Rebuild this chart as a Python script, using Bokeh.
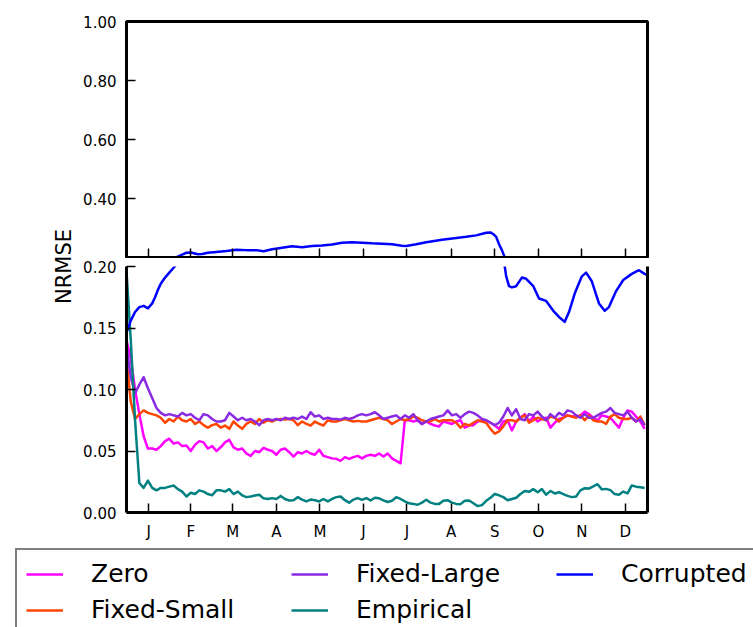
from math import pi

from bokeh.embed import file_html
from bokeh.layouts import column, row
from bokeh.models import (FixedTicker, Label, Legend, LegendItem, LinearAxis,
                          NumeralTickFormatter, Range1d)
from bokeh.plotting import figure
from bokeh.resources import INLINE

FONT = "DejaVu Sans"

# ---- data -------------------------------------------------------------
month_labels = ["J", "F", "M", "A", "M", "J", "J", "A", "S", "O", "N", "D"]
month_lengths = [31, 28, 31, 30, 31, 30, 31, 31, 30, 31, 30, 31]

# day of year, sampled every third day
days = list(range(0, 364, 3))

zero = [
    0.140, 0.125, 0.100, 0.080, 0.062, 0.052, 0.052, 0.051, 0.054, 0.058,
    0.060, 0.056, 0.057, 0.054, 0.0545, 0.050, 0.055, 0.058, 0.057, 0.052,
    0.054, 0.050, 0.053, 0.057, 0.059, 0.053, 0.051, 0.052, 0.048, 0.046,
    0.050, 0.049, 0.0525, 0.051, 0.050, 0.047, 0.051, 0.052, 0.049, 0.0455,
    0.049, 0.048, 0.050, 0.048, 0.047, 0.051, 0.046, 0.045, 0.044, 0.0436,
    0.042, 0.045, 0.0436, 0.045, 0.046, 0.044, 0.046, 0.047, 0.046, 0.048,
    0.0455, 0.048, 0.044, 0.042, 0.040, 0.075, 0.075, 0.074, 0.075, 0.072,
    0.074, 0.072, 0.0707, 0.070, 0.074, 0.073, 0.072, 0.074, 0.075, 0.069,
    0.0707, 0.071, 0.074, 0.075, 0.075, 0.073, 0.0707, 0.068, 0.074, 0.075,
    0.0667, 0.074, 0.077, 0.080, 0.074, 0.078, 0.074, 0.076, 0.077, 0.069,
    0.073, 0.076, 0.077, 0.079, 0.078, 0.078, 0.079, 0.082, 0.080, 0.077,
    0.075, 0.079, 0.078, 0.077, 0.073, 0.069, 0.077, 0.083, 0.082, 0.078,
    0.074, 0.068,
]

fixed_small = [
    0.125, 0.090, 0.076, 0.080, 0.083, 0.081, 0.080, 0.079, 0.077, 0.073,
    0.076, 0.074, 0.078, 0.075, 0.074, 0.076, 0.072, 0.074, 0.071, 0.069,
    0.071, 0.072, 0.069, 0.0707, 0.068, 0.074, 0.0707, 0.068, 0.072, 0.074,
    0.072, 0.076, 0.073, 0.075, 0.074, 0.0755, 0.076, 0.0755, 0.076, 0.075,
    0.071, 0.074, 0.072, 0.0707, 0.074, 0.072, 0.0707, 0.075, 0.074, 0.074,
    0.075, 0.076, 0.075, 0.074, 0.0745, 0.074, 0.074, 0.075, 0.076, 0.077,
    0.076, 0.075, 0.072, 0.074, 0.076, 0.075, 0.076, 0.078, 0.077, 0.075,
    0.074, 0.074, 0.076, 0.074, 0.075, 0.075, 0.075, 0.073, 0.069, 0.072,
    0.0707, 0.073, 0.075, 0.074, 0.073, 0.068, 0.064, 0.066, 0.070, 0.075,
    0.075, 0.074, 0.077, 0.079, 0.073, 0.075, 0.077, 0.076, 0.075, 0.078,
    0.077, 0.074, 0.077, 0.079, 0.078, 0.077, 0.079, 0.075, 0.079, 0.075,
    0.074, 0.074, 0.072, 0.078, 0.080, 0.077, 0.076, 0.076, 0.077, 0.074,
    0.078, 0.071,
]

fixed_large = [
    0.135, 0.110, 0.097, 0.104, 0.110, 0.101, 0.093, 0.085, 0.081, 0.079,
    0.080, 0.079, 0.078, 0.081, 0.079, 0.080, 0.077, 0.075, 0.080, 0.079,
    0.076, 0.074, 0.074, 0.075, 0.081, 0.078, 0.075, 0.077, 0.075, 0.076,
    0.074, 0.071, 0.075, 0.076, 0.075, 0.076, 0.075, 0.077, 0.076, 0.077,
    0.076, 0.078, 0.076, 0.0815, 0.078, 0.079, 0.076, 0.077, 0.076, 0.076,
    0.0755, 0.077, 0.076, 0.077, 0.079, 0.080, 0.079, 0.080, 0.0815, 0.079,
    0.076, 0.077, 0.078, 0.079, 0.076, 0.079, 0.077, 0.080, 0.075, 0.072,
    0.074, 0.076, 0.077, 0.078, 0.079, 0.083, 0.079, 0.080, 0.077, 0.080,
    0.082, 0.081, 0.079, 0.076, 0.075, 0.073, 0.071, 0.073, 0.078, 0.085,
    0.079, 0.084, 0.076, 0.075, 0.080, 0.079, 0.082, 0.078, 0.075, 0.080,
    0.077, 0.081, 0.079, 0.083, 0.082, 0.079, 0.077, 0.080, 0.077, 0.077,
    0.079, 0.081, 0.082, 0.085, 0.081, 0.080, 0.079, 0.082, 0.077, 0.074,
    0.076, 0.071,
]

empirical = [
    0.196, 0.140, 0.075, 0.024, 0.020, 0.026, 0.020, 0.018, 0.020, 0.020,
    0.021, 0.022, 0.019, 0.017, 0.013, 0.016, 0.015, 0.018, 0.017, 0.015,
    0.014, 0.018, 0.018, 0.017, 0.019, 0.015, 0.017, 0.014, 0.0125, 0.013,
    0.0138, 0.0144, 0.0115, 0.011, 0.0117, 0.011, 0.0135, 0.011, 0.0098, 0.010,
    0.0125, 0.0105, 0.009, 0.0105, 0.010, 0.009, 0.011, 0.009, 0.011, 0.0125,
    0.013, 0.010, 0.008, 0.0105, 0.0117, 0.0103, 0.0117, 0.0098, 0.012, 0.0115,
    0.0098, 0.0085, 0.0095, 0.0125, 0.011, 0.009, 0.0075, 0.007, 0.0063, 0.008,
    0.0103, 0.008, 0.007, 0.007, 0.0095, 0.010, 0.008, 0.007, 0.0068, 0.0095,
    0.0098, 0.0075, 0.0052, 0.006, 0.0095, 0.012, 0.015, 0.014, 0.0125, 0.010,
    0.011, 0.012, 0.015, 0.0175, 0.0168, 0.019, 0.0165, 0.019, 0.0145, 0.0175,
    0.0155, 0.0165, 0.015, 0.0135, 0.0125, 0.013, 0.018, 0.0198, 0.0195, 0.0212,
    0.023, 0.0188, 0.0192, 0.0182, 0.015, 0.0145, 0.017, 0.0155, 0.022, 0.021,
    0.0205, 0.020,
]

corrupted_days = [
    0, 3, 6, 9, 12, 15, 18, 20, 22, 24,
    27, 30, 33, 36, 39, 42, 45, 50, 53, 57,
    63, 70, 77, 84, 91, 96, 102, 109, 116, 123,
    130, 137, 144, 151, 158, 165, 172, 179, 186, 193,
    196, 203, 210, 221, 231, 238, 245, 252, 255, 257,
    259, 261, 263, 265, 266, 268, 270, 273, 277, 280,
    285, 289, 294, 299, 303, 307, 310, 314, 319, 322,
    326, 331, 335, 338, 343, 348, 354, 359, 363, 365,
]
corrupted = [
    0.146, 0.156, 0.163, 0.167, 0.168, 0.166, 0.170, 0.175, 0.181, 0.186,
    0.191, 0.195, 0.199, 0.203, 0.210, 0.216, 0.217, 0.211, 0.212, 0.216,
    0.219, 0.222, 0.226, 0.225, 0.225, 0.221, 0.228, 0.233, 0.238, 0.235,
    0.239, 0.241, 0.244, 0.250, 0.252, 0.250, 0.248, 0.247, 0.245, 0.240,
    0.239, 0.245, 0.252, 0.260, 0.266, 0.270, 0.275, 0.284, 0.285, 0.279,
    0.270, 0.245, 0.225, 0.200, 0.192, 0.184, 0.183, 0.184, 0.191, 0.190,
    0.184, 0.174, 0.172, 0.164, 0.159, 0.155, 0.163, 0.178, 0.192, 0.195,
    0.188, 0.170, 0.164, 0.167, 0.180, 0.189, 0.194, 0.197, 0.194, 0.193,
]

series = [
    ("Zero", days, zero, "#ff00ff"),
    ("Fixed-Small", days, fixed_small, "#ff4500"),
    ("Fixed-Large", days, fixed_large, "#8a2be2"),
    ("Empirical", days, empirical, "#008080"),
    ("Corrupted", corrupted_days, corrupted, "#0000ff"),
]

# month ticks sit at the middle of each month
month_mid = []
start = 0
for n in month_lengths:
    month_mid.append(start + n / 2)
    start += n

LINE_W = 2.5
TICK_FONT = "15px"


def style_axis(ax, ticks):
    ax.ticker = FixedTicker(ticks=ticks)
    ax.major_tick_in = 9
    ax.major_tick_out = 0
    ax.minor_tick_in = 0
    ax.minor_tick_out = 0
    ax.major_tick_line_color = "black"
    ax.major_tick_line_width = 1.5
    ax.major_label_text_font = FONT
    ax.major_label_text_font_size = TICK_FONT
    ax.major_label_text_color = "black"
    ax.major_label_standoff = 10
    ax.axis_line_color = "black"
    ax.axis_line_width = 3


def panel(y0, y1, frame_h, b_top, b_bottom):
    p = figure(frame_width=521, frame_height=frame_h,
               x_range=Range1d(0, 365), y_range=Range1d(y0, y1),
               output_backend="svg", toolbar_location=None,
               min_border_left=45, min_border_right=107,
               min_border_top=b_top, min_border_bottom=b_bottom)
    p.grid.visible = False
    p.background_fill_color = "white"
    p.border_fill_color = "white"
    for name, xs, ys, col in series:
        p.line(xs, ys, line_color=col, line_width=LINE_W, line_join="round")
    return p


TOP_B, TOP_FH, TOP_BB = 21, 236, 1
BOT_B, BOT_FH, BOT_BB = 8, 246, 30
TOTAL_H = TOP_B + TOP_FH + TOP_BB + BOT_B + BOT_FH + BOT_BB

# upper panel: 0.2 - 1.0
top = panel(0.2, 1.0, TOP_FH, TOP_B, TOP_BB)
top.outline_line_color = "black"
top.outline_line_width = 3
style_axis(top.yaxis[0], [0.4, 0.6, 0.8, 1.0])
top.yaxis[0].formatter = NumeralTickFormatter(format="0.00")
style_axis(top.xaxis[0], month_mid)
top.xaxis[0].major_label_overrides = {m: "" for m in month_mid}
top.xaxis[0].major_label_standoff = 0

# lower panel: 0.0 - 0.2
bottom = panel(0.0, 0.2, BOT_FH, BOT_B, BOT_BB)
bottom.outline_line_color = None
style_axis(bottom.yaxis[0], [0.0, 0.05, 0.10, 0.15, 0.20])
bottom.yaxis[0].formatter = NumeralTickFormatter(format="0.00")
style_axis(bottom.xaxis[0], month_mid)
bottom.xaxis[0].major_label_overrides = dict(zip(month_mid, month_labels))
right_ax = LinearAxis(ticker=FixedTicker(ticks=[]), axis_line_color="black",
                      axis_line_width=3, major_tick_in=0, major_tick_out=0,
                      minor_tick_in=0, minor_tick_out=0)
bottom.add_layout(right_ax, "right")

# shared y-axis title, centred on the break between the panels
lab = figure(width=80, height=TOTAL_H, x_range=Range1d(0, 80),
             y_range=Range1d(0, TOTAL_H), output_backend="svg",
             toolbar_location=None, x_axis_location=None,
             y_axis_location=None, min_border=0)
lab.grid.visible = False
lab.outline_line_color = None
lab.add_layout(Label(x=63, y=TOTAL_H - 266, text="NRMSE", angle=pi / 2,
                     text_align="center", text_baseline="middle",
                     text_font=FONT, text_font_size="21px",
                     text_color="black"))

# legend strip under the chart
leg = figure(width=753, height=627 - TOTAL_H,
             x_range=Range1d(0, 1), y_range=Range1d(0, 1),
             output_backend="svg", toolbar_location=None,
             x_axis_location=None, y_axis_location=None,
             min_border=0, min_border_left=15, min_border_top=5)
leg.grid.visible = False
leg.outline_line_color = None
items = []
for name, xs, ys, col in series:
    r = leg.line([0, 1], [5, 5], line_color=col, line_width=2.5)
    items.append(LegendItem(label=name, renderers=[r]))
legend = Legend(items=items, location="top_left", orientation="vertical",
                nrows=2, margin=0, padding=9, spacing=7,
                glyph_width=37, glyph_height=24, label_height=24,
                label_width=193, label_standoff=28,
                label_text_font=FONT, label_text_font_size="25px",
                label_text_color="black",
                border_line_color="black", border_line_width=2,
                background_fill_color="white", background_fill_alpha=1.0)
leg.add_layout(legend, "center")

layout = column(row(lab, column(top, bottom)), leg)

with open("out.html", "w") as f:
    f.write(file_html(layout, INLINE))
